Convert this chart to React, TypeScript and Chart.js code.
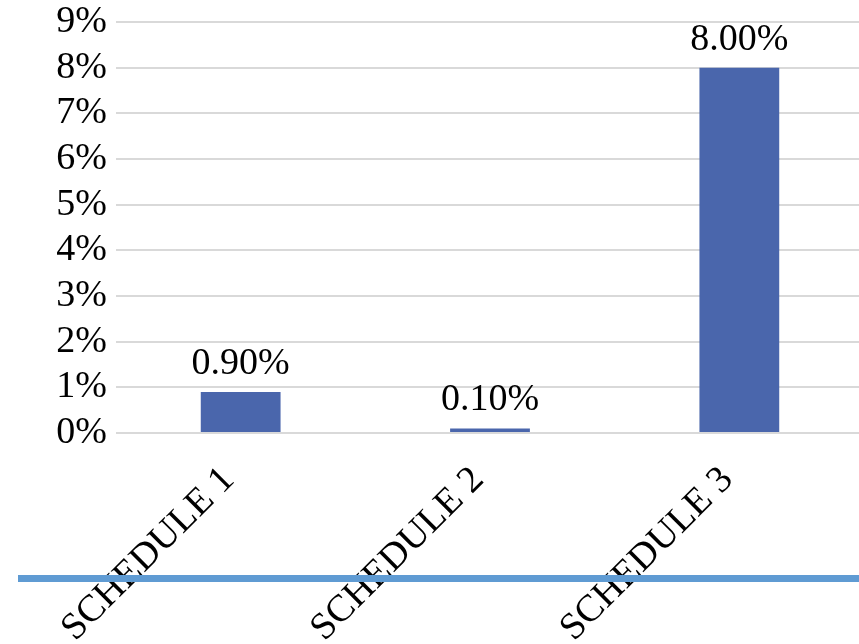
import React, { useEffect, useRef } from "react";
import { Chart, registerables } from "chart.js";

Chart.register(...registerables);

const categories = ["SCHEDULE 1", "SCHEDULE 2", "SCHEDULE 3"];
const values = [0.9, 0.1, 8.0];
const yMax = 9;
const yStep = 1;

const FONT = "'Liberation Serif', 'Times New Roman', serif";

const dataLabelPlugin = {
  id: "dataLabels",
  afterDatasetsDraw(chart: any) {
    const ctx = chart.ctx;
    const meta = chart.getDatasetMeta(0);
    ctx.save();
    ctx.font = `38px ${FONT}`;
    ctx.fillStyle = "#000000";
    ctx.textAlign = "center";
    ctx.textBaseline = "alphabetic";
    meta.data.forEach((bar: any, i: number) => {
      ctx.fillText(values[i].toFixed(2) + "%", bar.x, bar.y - 18);
    });
    ctx.restore();
  },
};

export default function App() {
  const ref = useRef<HTMLCanvasElement | null>(null);

  useEffect(() => {
    if (!ref.current) return;
    const chart = new Chart(ref.current, {
      type: "bar",
      data: {
        labels: categories,
        datasets: [
          {
            data: values,
            backgroundColor: "#4a66ac",
            borderWidth: 0,
            barPercentage: 0.32,
            categoryPercentage: 1,
          },
        ],
      },
      options: {
        responsive: false,
        devicePixelRatio: 1,
        animation: false,
        layout: { padding: { top: 22, left: 0, right: 0, bottom: 0 } },
        plugins: {
          legend: { display: false },
          tooltip: { enabled: false },
        },
        scales: {
          x: {
            grid: { display: false },
            border: { display: false },
            ticks: {
              color: "#000000",
              font: { family: FONT, size: 38 },
              minRotation: 45,
              maxRotation: 45,
              padding: 17,
              labelOffset: -12,
              autoSkip: false,
            },
            afterFit(scale: any) {
              scale.height = 211;
            },
          },
          y: {
            min: 0,
            max: yMax,
            grid: { color: "#d9d9d9", lineWidth: 2, drawTicks: false },
            border: { display: false },
            ticks: {
              stepSize: yStep,
              autoSkip: false,
              color: "#000000",
              font: { family: FONT, size: 38 },
              padding: 9,
              callback: (v: any) => v + "%",
            },
            afterFit(scale: any) {
              scale.width = 116;
              scale.paddingTop = 0;
              scale.paddingBottom = 0;
            },
          },
        },
      },
      plugins: [dataLabelPlugin],
    });
    return () => chart.destroy();
  }, []);

  return (
    <div
      style={{
        position: "fixed",
        left: 0,
        top: 0,
        width: 859,
        height: 644,
        overflow: "hidden",
        background: "#ffffff",
      }}
    >
      <canvas
        ref={ref}
        width={864}
        height={644}
        style={{ position: "absolute", left: 0, top: 0, width: 864, height: 644 }}
      />
      <div
        style={{
          position: "absolute",
          left: 18,
          top: 575,
          width: 841,
          height: 7,
          background: "#5f9bd3",
        }}
      />
    </div>
  );
}
